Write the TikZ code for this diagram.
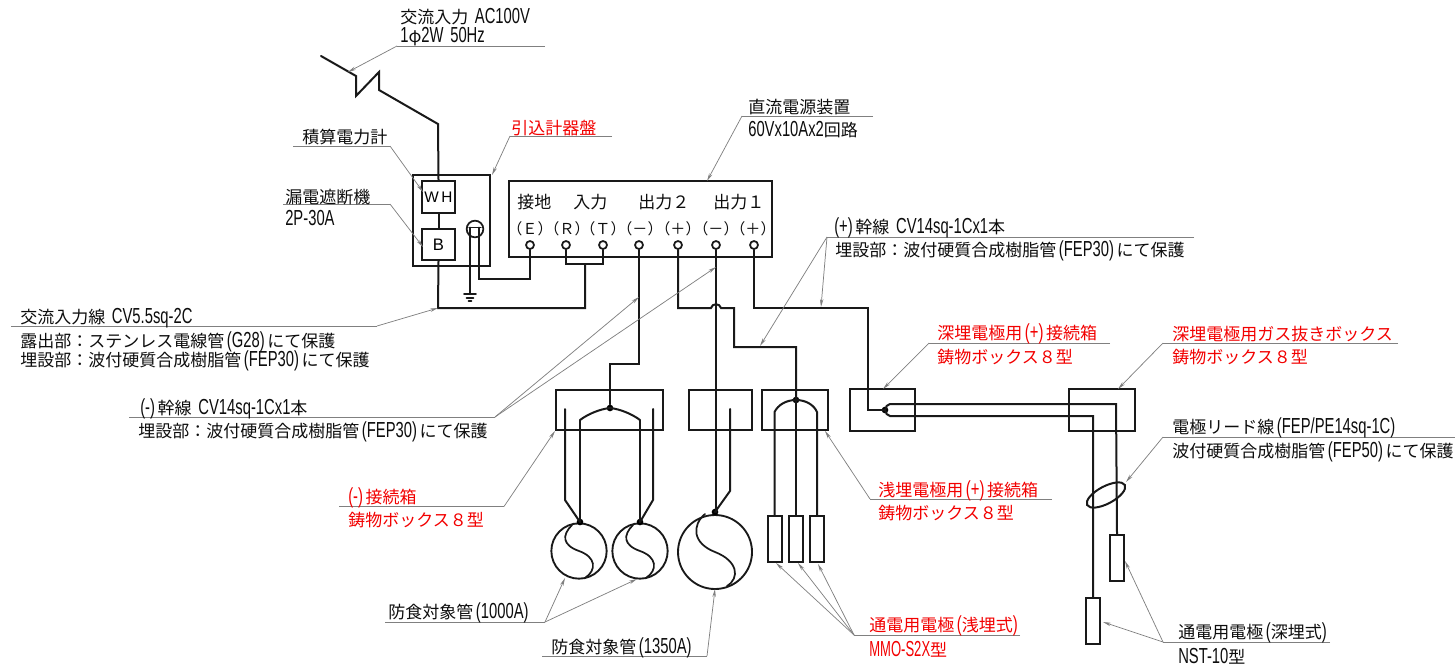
\documentclass[tikz,border=0pt]{standalone}
\usepackage{fontspec}
\usetikzlibrary{arrows.meta,shapes.geometric}
\setmainfont{Noto Sans CJK JP}
\newfontfamily\latn[FakeStretch=0.68,Scale=1.28]{Liberation Sans}
\newfontfamily\latnn[FakeStretch=0.6,Scale=1.28]{Liberation Sans}
\newfontfamily\plainf{Liberation Sans}
\newcommand{\lt}[1]{{\latn #1}}
\newcommand{\pr}[1]{\hspace{2pt}{\latn #1}\hspace{2pt}}
\newcommand{\gp}{\hspace{5pt}}
\tikzset{
  x=0.75pt,y=-0.75pt,
  wire/.style={line width=1.5pt,line cap=round,line join=miter,draw=black!90},
  box/.style={draw=black!90,line width=1.5pt},
  lead/.style={draw=black!50,line width=0.55pt},
  tip/.style={draw=black!50,line width=0.55pt,-{Stealth[length=6pt,width=2.6pt]}},
  lbl/.style={anchor=west,inner sep=0pt,font=\fontsize{12.75pt}{12.75pt}\selectfont,text=black!95},
  rlbl/.style={lbl,text=red!95!black},
  term/.style={circle,draw=black!90,line width=1.3pt,fill=white,minimum size=6pt,inner sep=0pt},
  jdot/.style={circle,fill=black,minimum size=5.5pt,inner sep=0pt},
}
\begin{document}
\begin{tikzpicture}
\useasboundingbox (0,0) rectangle (1455,668);
% boxes
\node[box,minimum width=57.75pt,minimum height=68.25pt,inner sep=0pt] (panel) at (451.5,220.5) {};
\node[box,minimum width=24.75pt,minimum height=24pt,inner sep=0pt,font=\fontsize{11.5pt}{11.5pt}\selectfont\plainf] (wh) at (438.5,197) {W\,H};
\node[box,minimum width=24.75pt,minimum height=23.25pt,inner sep=0pt,font=\fontsize{12.5pt}{12.5pt}\selectfont\plainf] (b) at (438.5,244.5) {B};
\node[box,minimum width=197.25pt,minimum height=57pt,inner sep=0pt] (dc) at (640.5,219) {};
\node[box,minimum width=80.25pt,minimum height=30pt,inner sep=0pt] (j1) at (609.5,410) {};
\node[box,minimum width=47.25pt,minimum height=30pt,inner sep=0pt] (j2) at (720.5,410) {};
\node[box,minimum width=49.5pt,minimum height=30pt,inner sep=0pt] (j3) at (795,410) {};
\node[box,minimum width=48.75pt,minimum height=31.5pt,inner sep=0pt] (j4) at (882.5,410) {};
\node[box,minimum width=49.5pt,minimum height=31.5pt,inner sep=0pt] (j5) at (1102,410) {};
% electrodes
\foreach \n/\x in {e1/774.5,e2/796,e3/817}
  \node[box,minimum width=10.5pt,minimum height=34.5pt,inner sep=0pt] (\n) at (\x,539) {};
\node[box,minimum width=10.5pt,minimum height=34.5pt,inner sep=0pt] (e4) at (1117,558) {};
\node[box,minimum width=10.5pt,minimum height=34.5pt,inner sep=0pt] (e5) at (1093,621) {};
% pipes
\node[circle,draw=black!90,line width=1.4pt,minimum size=41.5pt,inner sep=0pt] (p1) at (579,551) {};
\node[circle,draw=black!90,line width=1.4pt,minimum size=41.5pt,inner sep=0pt] (p2) at (640,551) {};
\node[circle,draw=black!90,line width=1.4pt,minimum size=55.5pt,inner sep=0pt] (p3) at (715,552) {};
\draw[wire,line width=1.3pt] (572,525) .. controls (562,535) and (562,545) .. (p1.center) .. controls (596,557) and (597,570) .. (585,578);
\draw[wire,line width=1.3pt] (633,525) .. controls (623,535) and (623,545) .. (p2.center) .. controls (657,557) and (658,570) .. (646,578);
\draw[wire,line width=1.3pt] (705,514) .. controls (692,525) and (692,543) .. (p3.center) .. controls (738,561) and (740,578) .. (727,586);
% power feed
\coordinate (a0) at (321,56); \coordinate (a1) at (356,76); \coordinate (a2) at (356,96);
\coordinate (a3) at (379,72); \coordinate (a4) at (379,90); \coordinate (a5) at (438,124);
\draw[wire] (a0)--(a1)--(a2)--(a3)--(a4)--(a5)--(wh.north);
\draw[wire] (wh.south)--(b.north);
% DC terminals
\node[term] (tE) at (530,245) {};
\node[term] (tR) at (566,245) {};
\node[term] (tT) at (603,245) {};
\node[term] (tM2) at (639,245) {};
\node[term] (tP2) at (678,245) {};
\node[term] (tM1) at (716,245) {};
\node[term] (tP1) at (754,245) {};
% earth
\node[circle,draw=black!90,line width=1.3pt,minimum size=12.5pt,inner sep=0pt] (eth) at (475,229) {};
\draw[wire,line width=1.1pt] (469,227.5)--(481,227.5);
\draw[wire] (470,227.5)--(470,294);
\draw[wire,line width=1.3pt] (464,294)--(476,294);
\draw[wire,line width=1.2pt] (466.5,298)--(473.5,298);
\draw[wire,line width=1.2pt] (468.5,301)--(471.5,301);
\draw[wire] (479,227.5)--(479,279)-|(tE.south);
\draw[wire] (tR.south)--(566,264)--(603,264)--(tT.south);
\draw[wire] (b.south)--(438,308)-|(585,264);
% minus 2 feed
\node[jdot,minimum size=5pt] (d1) at (610,408) {};
\draw[wire] (tM2.south)--(639,364)-|(d1);
\draw[wire] (580,420) .. controls (588,414) and (600,409) .. (d1.center) .. controls (620,409) and (632,414) .. (640,420);
% wires box1
\node[jdot,minimum size=5pt] (d2) at (580,522) {};
\node[jdot,minimum size=5pt] (d3) at (640,522) {};
\draw[wire] (565,409)--(565,500)--(d2.center);
\draw[wire] (580,420)--(d2.center);
\draw[wire] (640,420)--(d3.center);
\draw[wire] (653,409)--(653,500)--(d3.center);
% minus1
\node[jdot,minimum size=5pt] (d4) at (715,512) {};
\draw[wire] (tM1.south)--(716,512);
\draw[wire] (730,409)--(730,491)--(d4.center);
% plus2
\node[jdot,minimum size=5pt] (d5) at (796,400) {};
\draw[wire] (tP2.south)--(678,308)--(711,308) .. controls (712,303) and (720,303) .. (721,308) --(734,308)--(734,347)-|(d5.center);
\draw[wire] (e1.north)--(774.5,412) .. controls (778,405) and (786,400) .. (d5.center) .. controls (806,400) and (814,405) .. (817,412)--(e3.north);
\draw[wire] (d5.center)--(e2.north);
% plus1
\node[jdot,minimum size=5pt] (d6) at (885,410) {};
\draw[wire] (tP1.south)--(754,308)-|(868,410)--(d6.center);
\draw[wire] (e4.north)--(1116,404)--(890,404) .. controls (887,404) and (886,407) .. (d6.center) .. controls (886,413) and (887,416) .. (890,416)--(1093,416)--(e5.north);
\node[draw=black!90,line width=1.5pt,ellipse,rotate=28,minimum width=32pt,minimum height=13pt,inner sep=0pt] (ring) at (1106,495) {};
% leaders
\coordinate (l1) at (397,46);
\draw[lead] (545,46)--(l1); \draw[tip] (l1)--(348,72);
\coordinate (l2) at (390,146);
\draw[lead] (293,146)--(l2); \draw[tip] (l2)--(423,192);
\coordinate (l3) at (390,204);
\draw[lead] (283,204)--(l3); \draw[tip] (l3)--(423,247);
\coordinate (l4) at (510,136);
\draw[lead] (612,136)--(l4); \draw[tip] (l4)--(492,175);
\coordinate (l5) at (377,326);
\draw[lead] (11,326)--(l5); \draw[tip] (l5)--(438,308);
\coordinate (l6) at (742,116);
\draw[lead] (873,116)--(l6); \draw[tip] (l6)--(707,181);
\coordinate (l7) at (827,237);
\draw[lead] (1194,237)--(l7); \draw[tip] (l7)--(760,346); \draw[tip] (l7)--(821,307);
\coordinate (l8) at (495,417);
\draw[lead] (129,417)--(l8); \draw[tip] (l8)--(639,297); \draw[tip] (l8)--(716,267);
\coordinate (l9) at (504,506.5);
\draw[lead] (339,506.5)--(l9); \draw[tip] (l9)--(555,431);
\coordinate (l10) at (545,622);
\draw[lead] (385,622)--(l10); \draw[tip] (l10)--(565,578); \draw[tip] (l10)--(637,579);
\coordinate (l11) at (707,656);
\draw[lead] (542,656)--(l11); \draw[tip] (l11)--(715,589);
\coordinate (l12) at (870,499);
\draw[lead] (1052,499)--(l12); \draw[tip] (l12)--(825,431);
\coordinate (l13) at (854,635);
\draw[lead] (1020,635)--(l13); \draw[tip] (l13)--(776,563); \draw[tip] (l13)--(798,563); \draw[tip] (l13)--(818,564);
\coordinate (l14) at (1163,642);
\draw[lead] (1330,642)--(l14); \draw[tip] (l14)--(1125,561); \draw[tip] (l14)--(1103,622);
\coordinate (l15) at (1163,437);
\draw[lead] (1455,437)--(l15); \draw[tip] (l15)--(1126,482);
\coordinate (l16) at (929,343);
\draw[lead] (1110,343)--(l16); \draw[tip] (l16)--(883,389);
\coordinate (l17) at (1163,343);
\draw[lead] (1398,343)--(l17); \draw[tip] (l17)--(1118,389);
% labels
\node[lbl] (t1) at (400,17) {交流入力\gp\lt{AC100V}};
\node[lbl] (t2) at (400,37) {\lt{1}\textit{φ}\lt{2W\gp 50Hz}};
\node[lbl] (t3) at (302,137) {積算電力計};
\node[lbl] (t4) at (285,197) {漏電遮断機};
\node[lbl] (t5) at (285,218) {\lt{2P-30A}};
\node[rlbl] (t6) at (511,128) {引込計器盤};
\node[lbl] (t7) at (748,107) {直流電源装置};
\node[lbl] (t8) at (748,130) {\lt{60Vx10Ax2}回路};
\node[lbl] (s1) at (517,202) {接地};
\node[lbl] (s2) at (573,202) {入力};
\node[lbl] (s3) at (638,202) {出力２};
\node[lbl] (s4) at (713,202) {出力１};
\foreach \n/\x/\s in {sE/530/Ｅ,sR/567/Ｒ,sT/603/Ｔ,sM/640/－,sP/678/＋,sN/716/－,sQ/753/＋}
  \node[lbl,anchor=center,font=\fontsize{11.3pt}{11.3pt}\selectfont] (\n) at (\x,229) {（\s）};
\node[lbl] (t9) at (20,318) {交流入力線\gp\lt{CV5.5sq-2C}};
\node[lbl] (t10) at (20,342) {露出部：ステンレス電線管\pr{(G28)}にて保護};
\node[lbl] (t11) at (20,361) {埋設部：波付硬質合成樹脂管\pr{(FEP30)}にて保護};
\node[lbl] (t12) at (834,228) {\lt{(+)\hspace{2pt}}幹線\gp\lt{CV14sq-1Cx1}本};
\node[lbl] (t13) at (835,251) {埋設部：波付硬質合成樹脂管\pr{(FEP30)}にて保護};
\node[lbl] (t14) at (140,409) {\lt{(-)\hspace{2pt}}幹線\gp\lt{CV14sq-1Cx1}本};
\node[lbl] (t15) at (138,432) {埋設部：波付硬質合成樹脂管\pr{(FEP30)}にて保護};
\node[rlbl] (t16) at (348,498) {\lt{(-)\hspace{2pt}}接続箱};
\node[rlbl] (t17) at (348,520) {鋳物ボックス８型};
\node[lbl] (t18) at (388,613) {防食対象管\pr{(1000A)}};
\node[lbl] (t19) at (551,648) {防食対象管\pr{(1350A)}};
\node[rlbl] (t20) at (878,491) {浅埋電極用\pr{(+)}接続箱};
\node[rlbl] (t21) at (878,513) {鋳物ボックス８型};
\node[rlbl] (t22) at (869,626) {通電用電極\hspace{2pt}\lt{(}浅埋式\lt{)}};
\node[rlbl] (t23) at (869,649) {{\latnn MMO-S2X}型};
\node[rlbl] (t24) at (937,334) {深埋電極用\pr{(+)}接続箱};
\node[rlbl] (t25) at (937,357) {鋳物ボックス８型};
\node[rlbl] (t26) at (1172,334) {深埋電極用ガス抜きボックス};
\node[rlbl] (t27) at (1172,357) {鋳物ボックス８型};
\node[lbl] (t28) at (1172,428) {電極リード線\hspace{2pt}\lt{(FEP/PE14sq-1C)}};
\node[lbl] (t29) at (1172,452) {波付硬質合成樹脂管\pr{(FEP50)}にて保護};
\node[lbl] (t30) at (1178,633) {通電用電極\hspace{2pt}\lt{(}深埋式\lt{)}};
\node[lbl] (t31) at (1178,656) {\lt{NST-10}型};
\end{tikzpicture}
\end{document}
